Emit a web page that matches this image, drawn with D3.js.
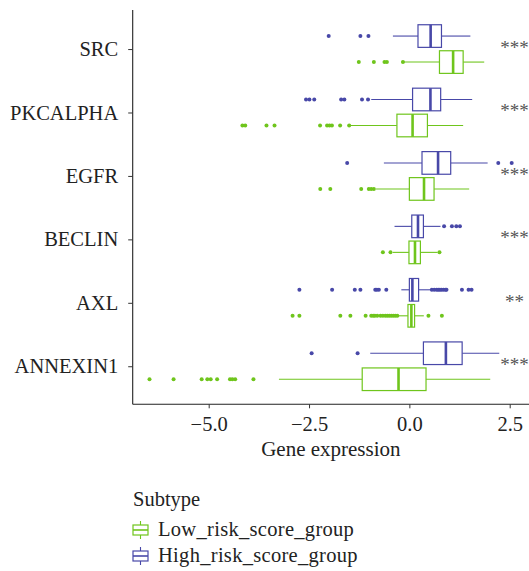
<!DOCTYPE html>
<html>
<head>
<meta charset="utf-8">
<script src="https://cdn.jsdelivr.net/npm/d3@7"></script>
<style>
  html, body { margin: 0; padding: 0; background: #fff; }
  svg { display: block; }
  text { font-family: "Liberation Serif", "DejaVu Serif", serif; }
</style>
</head>
<body>
<script>
// Genes shown on the y axis, top to bottom
const genes = ["SRC", "PKCALPHA", "EGFR", "BECLIN", "AXL", "ANNEXIN1"];
const groups = ["High_risk_score_group", "Low_risk_score_group"];
const legendOrder = ["Low_risk_score_group", "High_risk_score_group"];
const significance = ["***", "***", "***", "***", "**", "***"];
const xTicks = [-5.0, -2.5, 0.0, 2.5];

// Box statistics per gene (same order as genes) - Low risk group
const lowWhiskerLo = [-0.14, -1.50, -0.83, -0.41, -0.28, -3.25];
const lowQ1        = [0.75, -0.31, 0.00, -0.01, -0.035, -1.175];
const lowMedian    = [1.09, 0.08, 0.365, 0.14, 0.05, -0.27];
const lowQ3        = [1.34, 0.45, 0.615, 0.275, 0.13, 0.415];
const lowWhiskerHi = [1.865, 1.34, 1.49, 0.70, 0.36, 2.015];
const lowOutliers  = [
  [-1.26, -0.885, -0.62, -0.56, -0.16],
  [-4.16, -4.09, -3.56, -3.36, -2.225, -2.05, -1.99, -1.93, -1.725, -1.50],
  [-2.22, -1.97, -1.20, -1.01, -0.95, -0.885],
  [-0.66, -0.47, 0.75],
  [-2.91, -2.74, -1.72, -1.47, -1.09, -0.95, -0.90, -0.86, -0.80, -0.72, -0.66, -0.60, -0.55, -0.50, -0.45, -0.40, -0.35, -0.30, 0.475, 0.81],
  [-6.475, -5.875, -5.175, -5.035, -4.95, -4.79, -4.47, -4.41, -4.34, -3.885]
];

// Box statistics per gene - High risk group
const highWhiskerLo = [-0.41, -0.95, -0.635, -0.37, -0.20, -0.975];
const highQ1        = [0.215, 0.08, 0.315, 0.06, 0.00, 0.35];
const highMedian    = [0.53, 0.525, 0.715, 0.215, 0.075, 0.91];
const highQ3        = [0.80, 0.78, 1.03, 0.35, 0.23, 1.315];
const highWhiskerHi = [1.52, 1.565, 1.95, 0.775, 0.53, 2.24];
const highOutliers  = [
  [-2.01, -1.22, -1.02],
  [-2.575, -2.49, -2.37, -1.70, -1.62, -1.18, -1.03],
  [-1.55, 2.215, 2.55],
  [0.865, 1.06, 1.17, 1.26],
  [-2.74, -1.925, -1.36, -1.22, -0.85, -0.81, -0.76, -0.575, 0.56, 0.62, 0.68, 0.72, 0.76, 0.80, 0.85, 0.90, 0.925, 1.31, 1.475, 1.55],
  [-2.435, -1.29]
];

const colors = { "Low_risk_score_group": "#6fc51c", "High_risk_score_group": "#4848a8" };
const FONT = 20.5;

const boxes = [];
genes.forEach((g, i) => {
  boxes.push({ gene: g, group: "High_risk_score_group", lo: highWhiskerLo[i], q1: highQ1[i], med: highMedian[i], q3: highQ3[i], hi: highWhiskerHi[i], out: highOutliers[i] });
  boxes.push({ gene: g, group: "Low_risk_score_group", lo: lowWhiskerLo[i], q1: lowQ1[i], med: lowMedian[i], q3: lowQ3[i], hi: lowWhiskerHi[i], out: lowOutliers[i] });
});

const W = 529, H = 571;
const panel = { left: 132.7, right: 529, top: 11, bottom: 404.3 };

const svg = d3.select("body").append("svg").attr("width", W).attr("height", H);

const x = d3.scaleLinear().domain([-5, 2.5]).range([208.7, 509.7]);
const y = d3.scalePoint().domain(genes).range([panel.top, panel.bottom]).padding(0.6);
const step = y.step();
const dodge = d3.scaleBand().domain(groups).range([-0.41 * step, 0.41 * step]).paddingInner(0.13).paddingOuter(0.065);
const bw = dodge.bandwidth();

const plot = svg.append("g");

const gBox = plot.selectAll("g.box").data(boxes).join("g")
  .attr("class", "box")
  .attr("transform", d => `translate(0,${y(d.gene) + dodge(d.group) + bw / 2})`);

// whiskers
gBox.append("line")
  .attr("x1", d => x(d.lo)).attr("x2", d => x(d.q1))
  .attr("stroke", d => colors[d.group]).attr("stroke-width", 1.1);
gBox.append("line")
  .attr("x1", d => x(d.q3)).attr("x2", d => x(d.hi))
  .attr("stroke", d => colors[d.group]).attr("stroke-width", 1.1);
// box
gBox.append("rect")
  .attr("x", d => x(d.q1)).attr("width", d => x(d.q3) - x(d.q1))
  .attr("y", -bw / 2).attr("height", bw)
  .attr("fill", "#fff").attr("stroke", d => colors[d.group]).attr("stroke-width", 1.2);
// median
gBox.append("line")
  .attr("x1", d => x(d.med)).attr("x2", d => x(d.med))
  .attr("y1", -bw / 2).attr("y2", bw / 2)
  .attr("stroke", d => colors[d.group]).attr("stroke-width", 2.6);
// outliers
gBox.selectAll("circle").data(d => d.out.map(v => ({ v, group: d.group }))).join("circle")
  .attr("cx", d => x(d.v)).attr("cy", 0).attr("r", 2)
  .attr("fill", d => colors[d.group]);

// significance marks
plot.selectAll("text.sig").data(genes).join("text")
  .attr("class", "sig")
  .attr("x", 514.5).attr("y", d => y(d) + 5)
  .attr("text-anchor", "middle")
  .attr("font-size", 19).attr("fill", "#555")
  .text((d, i) => significance[i]);

// y axis
const yAxis = svg.append("g").attr("transform", `translate(${panel.left},0)`)
  .call(d3.axisLeft(y).tickSize(4.5).tickPadding(10));
yAxis.select(".domain").attr("d", `M0,${panel.top - 1}V${panel.bottom}`).attr("stroke", "#222").attr("stroke-width", 1.1);
yAxis.selectAll(".tick line").attr("stroke", "#333");
yAxis.selectAll(".tick text").attr("font-size", FONT).attr("fill", "#222")
  .attr("font-family", "Liberation Serif, DejaVu Serif, serif");

// x axis
const xAxis = svg.append("g").attr("transform", `translate(0,${panel.bottom})`)
  .call(d3.axisBottom(x).tickValues(xTicks).tickSize(4).tickPadding(8).tickFormat(d => d3.format(".1f")(d).replace("-", "\u2212")));
xAxis.select(".domain").attr("d", `M${panel.left},0H${panel.right}`).attr("stroke", "#222").attr("stroke-width", 1.1);
xAxis.selectAll(".tick line").attr("stroke", "#333");
xAxis.selectAll(".tick text").attr("font-size", FONT).attr("fill", "#222")
  .attr("font-family", "Liberation Serif, DejaVu Serif, serif");

svg.append("text")
  .attr("x", (panel.left + panel.right) / 2).attr("y", 456)
  .attr("text-anchor", "middle").attr("font-size", 21).attr("fill", "#222")
  .text("Gene expression");

// legend
const legend = svg.append("g");
legend.append("text").attr("x", 133).attr("y", 506).attr("font-size", FONT).attr("fill", "#222").text("Subtype");
const items = legend.selectAll("g.item").data(legendOrder).join("g")
  .attr("class", "item")
  .attr("transform", (d, i) => `translate(133,${521 + i * 26})`);
items.append("line").attr("x1", 7.5).attr("x2", 7.5).attr("y1", 0).attr("y2", 18)
  .attr("stroke", d => colors[d]).attr("stroke-width", 1.1);
items.append("rect").attr("x", 0).attr("y", 4).attr("width", 15).attr("height", 10)
  .attr("fill", "#fff").attr("stroke", d => colors[d]).attr("stroke-width", 1.2);
items.append("line").attr("x1", 0).attr("x2", 15).attr("y1", 9).attr("y2", 9)
  .attr("stroke", d => colors[d]).attr("stroke-width", 1.6);
items.append("text").attr("x", 25).attr("y", 15).attr("font-size", FONT).attr("fill", "#222")
  .attr("letter-spacing", 0.3).text(d => d);
</script>
</body>
</html>
